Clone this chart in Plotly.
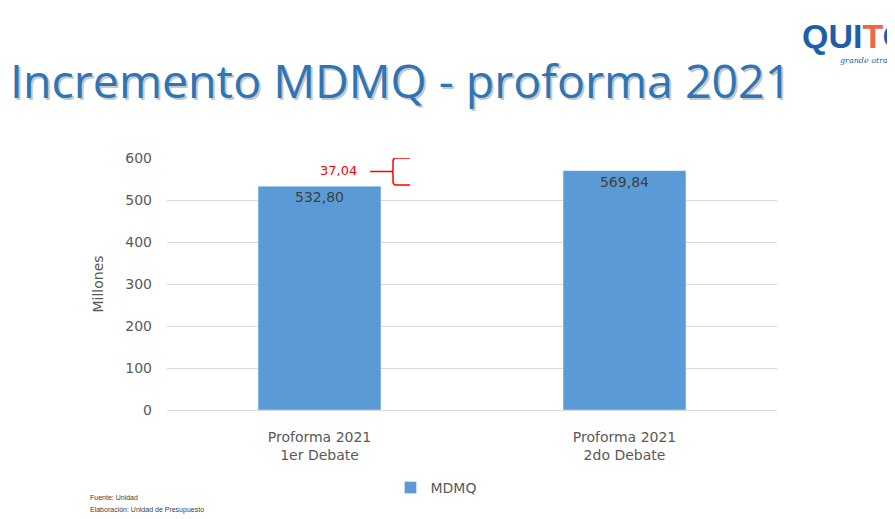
import plotly.graph_objects as go

categorias = ["Proforma 2021<br>1er Debate", "Proforma 2021<br>2do Debate"]
mdmq = [532.80, 569.84]
incremento = 37.04
y_ticks = [0, 100, 200, 300, 400, 500, 600]

# la página tiene 8px de margen en el body
OFF = 8
L, T, W, H = 159, 150, 610, 252
FW, FH = 887, 511


def px(x):
    return (x - OFF - L) / W


def py(y):
    return (T + H - (y - OFF)) / H


fig = go.Figure()
fig.add_trace(go.Bar(
    x=categorias, y=mdmq, name="MDMQ",
    marker_color="#5B9BD5",
    texttemplate="%{y:.2f}", textposition="inside", insidetextanchor="end",
    textfont=dict(color="#404040", size=14, family="DejaVu Sans"),
))

# llave del incremento (decorativa), en coordenadas del eje
b_top = mdmq[1] + 30
b_bot = mdmq[0] + 3
b_mid = (b_top + b_bot) / 2
brace = (f"M 0.166 {b_mid} L 0.238 {b_mid} "
         f"M 0.297 {b_top} L 0.250 {b_top} Q 0.241 {b_top} 0.241 {b_top-8} "
         f"L 0.241 {b_mid+6} Q 0.241 {b_mid} 0.236 {b_mid} "
         f"Q 0.241 {b_mid} 0.241 {b_mid-6} L 0.241 {b_bot+8} "
         f"Q 0.241 {b_bot} 0.250 {b_bot} L 0.297 {b_bot}")
fig.add_shape(type="path", path=brace, xref="x", yref="y",
              line=dict(color="#FF0000", width=1.5))
fig.add_annotation(x=0.128, y=b_mid + 3, xref="x", yref="y", xanchor="right", yanchor="middle",
                   text=f"{incremento:.2f}".replace(".", ","), showarrow=False,
                   font=dict(color="#FF0000", size=13, family="DejaVu Sans"))

# título con sombra
titulo = "Incremento MDMQ - proforma 2021"
fig.add_annotation(x=px(10), y=py(82), xref="paper", yref="paper", xanchor="left", yanchor="middle",
                   text=titulo, showarrow=False,
                   font=dict(size=46.5, color="#C8C8C8", family="Open Sans"))
fig.add_annotation(x=px(8), y=py(80), xref="paper", yref="paper", xanchor="left", yanchor="middle",
                   text=titulo, showarrow=False,
                   font=dict(size=46.5, color="#2E75B6", family="Open Sans"))

# logo
fig.add_annotation(x=px(800), y=py(36), xref="paper", yref="paper", xanchor="left", yanchor="middle",
                   text="<b><span style='color:#1F5FA8'>QUI</span><span style='color:#F0644B'>T</span>"
                        "<span style='color:#1F5FA8'>O</span></b>",
                   showarrow=False, font=dict(size=34, family="Liberation Sans"))
fig.add_annotation(x=px(838), y=py(60), xref="paper", yref="paper", xanchor="left", yanchor="middle",
                   text="<i>grande otra vez</i>", showarrow=False,
                   font=dict(size=8, color="#1F5FA8", family="DejaVu Serif"))

# fuente
fig.add_annotation(x=px(88), y=py(497), xref="paper", yref="paper", xanchor="left", yanchor="middle",
                   text="Fuente: Unidad", showarrow=False,
                   font=dict(size=7, color="#404040", family="Liberation Sans"))
fig.add_annotation(x=px(88), y=py(510), xref="paper", yref="paper", xanchor="left", yanchor="middle",
                   text="Elaboración: Unidad de Presupuesto", showarrow=False,
                   font=dict(size=7, color="#404040", family="Liberation Sans"))

fig.update_layout(
    width=FW, height=FH,
    margin=dict(l=L, r=FW - L - W, t=T, b=FH - T - H, autoexpand=False),
    paper_bgcolor="white", plot_bgcolor="white",
    separators=",.",
    bargap=0.597,
    font=dict(family="DejaVu Sans", color="#595959", size=14),
    showlegend=True,
    legend=dict(orientation="h", x=px(436), xanchor="center", y=py(488), yanchor="middle",
                font=dict(size=14, color="#595959")),
)
fig.update_xaxes(showline=True, linecolor="#D9D9D9", linewidth=1, ticklabelstandoff=14,
                 automargin=False, tickfont=dict(size=14, color="#595959"))
fig.update_yaxes(range=[0, 600], tickvals=y_ticks, showgrid=True, gridcolor="#D9D9D9",
                 zeroline=False, ticks="", ticklabelstandoff=14, automargin=False,
                 tickfont=dict(size=14, color="#595959"),
                 title=dict(text="Millones", font=dict(size=14, color="#595959"), standoff=18))

fig.write_html("out.html")
